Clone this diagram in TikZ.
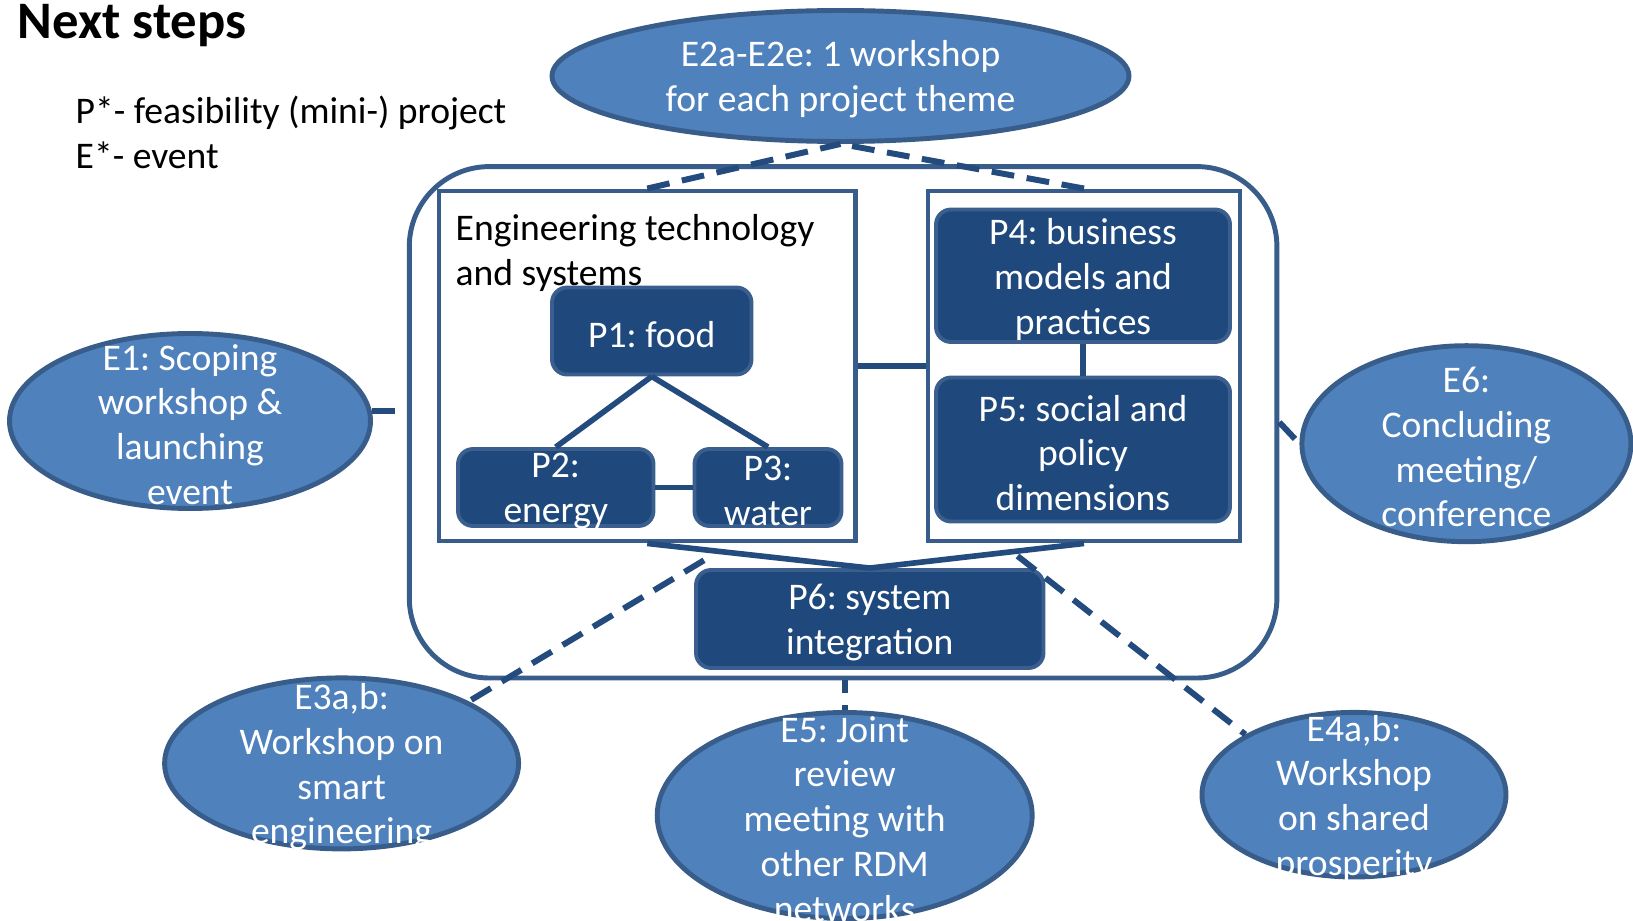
\documentclass[tikz,border=0pt]{standalone}
\usepackage{fontspec}
\setmainfont{Carlito}
\frenchspacing
\usepackage{tikz}
\usetikzlibrary{shapes.geometric}
\definecolor{eventblue}{HTML}{4F81BD}
\definecolor{eventline}{HTML}{385D8A}
\definecolor{projblue}{HTML}{1F497D}
\definecolor{projline}{HTML}{3A5F8F}
\definecolor{linkblue}{HTML}{234B7E}

\begin{document}
\begin{tikzpicture}[%
  every node/.style={font=\fontsize{10.7}{12.75}\selectfont},
  event/.style={ellipse, draw=eventline, fill=eventblue, line width=1.4pt, inner sep=0pt},
  project/.style={rectangle, rounded corners=1.5mm, draw=projline, fill=projblue,
    line width=1.1pt, inner sep=0pt},
  frame/.style={rectangle, draw=eventline, line width=1.4pt, inner sep=0pt},
  intext/.style={text=white, align=center, inner sep=0pt, yshift=-0.35mm},
  link/.style={draw=linkblue, line width=1.6pt},
  dashlink/.style={draw=linkblue, line width=1.7pt, dash pattern=on 6.5pt off 3.6pt}]

\useasboundingbox (0,0) rectangle (16.33,-9.21);

\node[anchor=base west, inner sep=0pt, font=\fontsize{15}{18}\bfseries\selectfont]
  (title) at (0.17,-0.385) {Next steps};
\node[anchor=north west, inner sep=0pt, align=left] (legend) at (0.75,-0.95)
  {P*- feasibility (mini-) project\\E*- event};

% frames
\node[frame, rounded corners=0.8cm, minimum width=8.676cm, minimum height=5.114cm]
  (big) at (8.431,-4.223) {};
\node[frame, minimum width=4.165cm, minimum height=3.5cm] (lbox) at (6.4725,-3.66) {};
\node[frame, minimum width=3.12cm, minimum height=3.5cm] (rbox) at (10.84,-3.66) {};
\node[anchor=north west, inner sep=0pt, align=left] (lboxtitle) at (4.55,-2.14)
  {Engineering technology\\and systems};

% projects
\node[project, minimum width=1.995cm, minimum height=0.87cm,
  label={[intext]center:{P1: food}}] (p1) at (6.5175,-3.31) {};
\node[project, minimum width=1.955cm, minimum height=0.77cm,
  label={[intext]center:{P2:\\energy}}] (p2) at (5.5575,-4.875) {};
\node[project, minimum width=1.47cm, minimum height=0.77cm,
  label={[intext]center:{P3:\\water}}] (p3) at (7.68,-4.875) {};
\node[project, minimum width=2.94cm, minimum height=1.325cm,
  label={[intext]center:{P4: business\\models and\\practices}}] (p4) at (10.83,-2.7575) {};
\node[project, minimum width=2.94cm, minimum height=1.44cm,
  label={[intext]center:{P5: social and\\policy\\dimensions}}] (p5) at (10.83,-4.495) {};
\node[project, minimum width=3.475cm, minimum height=0.98cm,
  label={[intext]center:{P6: system\\integration}}] (p6) at (8.6975,-6.19) {};

% events
\node[event, minimum width=5.77cm, minimum height=1.31cm,
  label={[intext]center:{E2a-E2e: 1 workshop\\for each project theme}}] (e2) at (8.405,-0.76) {};
\node[event, minimum width=3.61cm, minimum height=1.75cm,
  label={[intext]center:{E1: Scoping\\workshop \&\\launching\\event}}] (e1) at (1.90,-4.21) {};
\node[event, minimum width=3.29cm, minimum height=1.96cm,
  label={[intext]center:{E6:\\Concluding\\meeting/\\conference}}] (e6) at (14.664,-4.437) {};
\node[event, minimum width=3.54cm, minimum height=1.71cm,
  label={[intext]center:{E3a,b:\\Workshop on\\smart\\engineering}}] (e3) at (3.416,-7.634) {};
\node[event, minimum width=3.75cm, minimum height=2.06cm,
  label={[intext]center:{E5: Joint\\review\\meeting with\\other RDM\\networks}}] (e5) at (8.447,-8.155) {};
\node[event, minimum width=3.04cm, minimum height=1.646cm,
  label={[intext]center:{E4a,b:\\Workshop\\on shared\\prosperity}}] (e4) at (13.54,-7.947) {};

\coordinate (e3s) at (7.04,-5.603);
\coordinate (e4s) at (10.175,-5.56);

% links
\draw[link] (lbox.east) -- (rbox.west);
\draw[link] (p1.south) -- (p2.north);
\draw[link] (p1.south) -- (p3.north);
\draw[link] (p2.east) -- (p3.west);
\draw[link] (p4.south) -- (p5.north);
\draw[link] (lbox.south) -- (p6.north);
\draw[link] (rbox.south) -- (p6.north);

\draw[dashlink] (lbox.north) -- (e2.south);
\draw[dashlink] (rbox.north) -- (e2.south);
\draw[dashlink] (e1.3) -- (e1.3 -| big.west);
\draw[dashlink] (big.east) -- (e6.west);
\draw[dashlink] (e3s) -- (e3.26);
\draw[dashlink, dash phase=3pt] (big.south -| e5.north) -- (e5.north);
\draw[dashlink] (e4s) -- (e4.151);
\end{tikzpicture}
\end{document}
